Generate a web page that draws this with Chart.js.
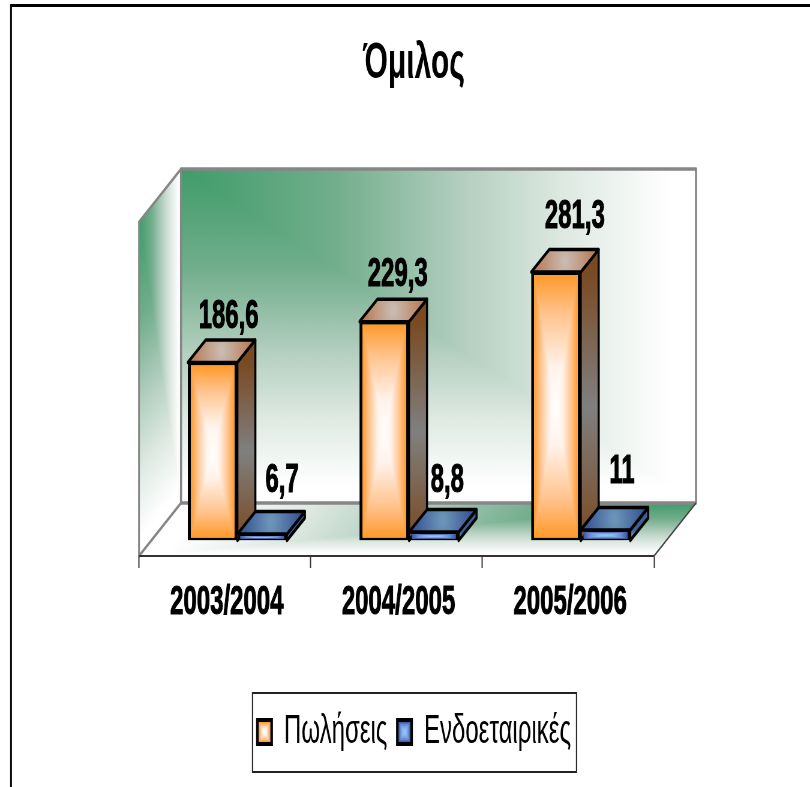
<!DOCTYPE html>
<html>
<head>
<meta charset="utf-8">
<script src="https://cdn.jsdelivr.net/npm/chart.js@4"></script>
<style>
html, body { margin: 0; padding: 0; background: #fff; overflow: hidden; }
#wrap { width: 810px; height: 787px; overflow: hidden; }
/* the original picture is squeezed sideways, so draw wide and squeeze */
#omilosChart { display: block; transform: scaleX(0.6); transform-origin: 0 0; }
</style>
</head>
<body>
<div id="wrap"><canvas id="omilosChart" width="1350" height="787"></canvas></div>
<script>
var categories = ["2003/2004", "2004/2005", "2005/2006"];
var seriesNames = ["Πωλήσεις", "Ενδοεταιρικές"];
var salesValues = [186.6, 229.3, 281.3];
var intercompanyValues = [6.7, 8.8, 11];
var chartTitle = "Όμιλος";

var squeeze = 0.6;
var fontFamily = "'Liberation Sans', Arial, sans-serif";

// 3d look, all in canvas pixels (before the squeeze)
var roomDepth = { x: 42 / squeeze, y: -53 };
var barShift = { x: 12.5 / squeeze, y: -15.5 };
var barDepth = { x: 18 / squeeze, y: -22.5 };

var faces = [
    { front: "#ff9a2b", side: ["#7a4a22", "#808080", "#7a4a22"], top: ["#b5734a", "#c9b9ae"], inset: 3,
      ramp: [[0, "#ffffff"], [0.3, "#fff3ea"], [0.7, "#ffc48f"], [1, "#ff9a2b"]] },
    { front: "#3c55a5", side: ["#3d5f95", "#6f8fb8", "#3d5f95"], top: ["#2f4a8c", "#6b93b8"], inset: 2,
      ramp: [[0, "#92c8fa"], [0.3, "#88bcf2"], [0.7, "#6a90d8"], [1, "#3c55a5"]] }
];
var greenRamp = [[0, "#3f9c6a"], [0.3, "#72ae8c"], [0.55, "#b4cfc0"], [0.75, "#dfeae3"], [0.95, "#ffffff"], [1, "#ffffff"]];

// hand placed data labels in the original, [dx, dy] from the bar top corner
var labelNudge = [
    [[16, -34], [13.5, -36], [19, -44]],
    [[20, -42], [13.5, -40], [16.5, -47]]
];

// corner gradient on a parallelogram: iso lines run out from origin like an L
function fillCorner(ctx, o, u, v) {
    ctx.save();
    ctx.transform(u.x, u.y, v.x, v.y, o.x, o.y);
    var gu = ctx.createLinearGradient(0, 0, 1, 0);
    var gv = ctx.createLinearGradient(0, 0, 0, 1);
    greenRamp.forEach(function (s) {
        gu.addColorStop(s[0], s[1]);
        gv.addColorStop(s[0], s[1]);
    });
    ctx.fillStyle = gv;
    ctx.fillRect(0, 0, 1, 1);
    ctx.beginPath(); ctx.moveTo(0, 0); ctx.lineTo(1, 0); ctx.lineTo(1, 1); ctx.closePath();
    ctx.fillStyle = gu; ctx.fill();
    ctx.restore();
}

function poly(ctx, pts) {
    ctx.beginPath();
    ctx.moveTo(pts[0][0], pts[0][1]);
    for (var i = 1; i < pts.length; i++) ctx.lineTo(pts[i][0], pts[i][1]);
    ctx.closePath();
}

function outline(ctx, pts, color, w) {
    poly(ctx, pts);
    ctx.strokeStyle = color;
    ctx.lineWidth = w;
    ctx.lineJoin = "round";
    ctx.stroke();
}

// rectangular "from centre" gradient, edges to middle, made of four triangles
function fillPyramid(ctx, x0, y0, x1, y1, ramp) {
    var cx = (x0 + x1) / 2, cy = (y0 + y1) / 2;
    function mirrored(ax, ay, bx, by) {
        var g = ctx.createLinearGradient(ax, ay, bx, by);
        ramp.forEach(function (s) {
            g.addColorStop(0.5 - s[0] / 2, s[1]);
            g.addColorStop(0.5 + s[0] / 2, s[1]);
        });
        return g;
    }
    ctx.fillStyle = mirrored(0, y0, 0, y1);
    ctx.fillRect(x0, y0, x1 - x0, y1 - y0);
    ctx.fillStyle = mirrored(x0, 0, x1, 0);
    poly(ctx, [[x0, y0], [cx, cy], [x0, y1]]); ctx.fill();
    poly(ctx, [[x1, y0], [cx, cy], [x1, y1]]); ctx.fill();
}

var room3d = {
    id: "room3d",
    beforeDraw: function (chart) {
        var ctx = chart.ctx, a = chart.chartArea, d = roomDepth;
        ctx.save();
        ctx.fillStyle = "#fff";
        ctx.fillRect(0, 0, chart.width, chart.height);
        // outer frame of the slide object
        ctx.strokeStyle = "#000";
        ctx.lineWidth = 3;
        ctx.beginPath();
        ctx.moveTo(11 / squeeze, chart.height);
        ctx.lineTo(11 / squeeze, 5.5);
        ctx.lineTo(chart.width, 5.5);
        ctx.stroke();

        var h = a.bottom - a.top, w = a.right - a.left;
        fillCorner(ctx, { x: a.left + d.x, y: a.top + d.y }, { x: w, y: 0 }, { x: 0, y: h });
        fillCorner(ctx, { x: a.left, y: a.top }, { x: d.x, y: d.y }, { x: 0, y: h });
        fillCorner(ctx, { x: a.right + d.x, y: a.bottom + d.y }, { x: -w, y: 0 }, { x: -d.x, y: -d.y });

        var grey = "#868686";
        outline(ctx, [[a.left + d.x, a.top + d.y], [a.right + d.x, a.top + d.y], [a.right + d.x, a.bottom + d.y], [a.left + d.x, a.bottom + d.y]], grey, 3.5);
        outline(ctx, [[a.left, a.top], [a.left + d.x, a.top + d.y], [a.left + d.x, a.bottom + d.y], [a.left, a.bottom]], grey, 3);
        ctx.beginPath();
        ctx.moveTo(a.right, a.bottom);
        ctx.lineTo(a.right + d.x, a.bottom + d.y);
        ctx.strokeStyle = "#444";
        ctx.lineWidth = 2;
        ctx.stroke();
        ctx.restore();
    },
    beforeDatasetsDraw: function (chart) {
        chart.ctx.save();
        chart.ctx.translate(barShift.x, barShift.y);
    },
    afterDatasetsDraw: function (chart) {
        var ctx = chart.ctx, b = barDepth;
        [0, 1].forEach(function (ds) {
            var f = faces[ds];
            chart.getDatasetMeta(ds).data.forEach(function (bar) {
                var p = bar.getProps(["x", "y", "base", "width"], true);
                var l = p.x - p.width / 2, r = p.x + p.width / 2;
                var top = [[l, p.y], [r, p.y], [r + b.x, p.y + b.y], [l + b.x, p.y + b.y]];
                var side = [[r, p.y], [r + b.x, p.y + b.y], [r + b.x, p.base + b.y], [r, p.base]];

                var gs = ctx.createLinearGradient(0, p.y, 0, p.base);
                f.side.forEach(function (c, i) { gs.addColorStop(i / 2, c); });
                poly(ctx, side); ctx.fillStyle = gs; ctx.fill();
                outline(ctx, side, "#000", 3.5);

                var cx = l + (r - l + b.x) / 2, cy = p.y + b.y / 2;
                var gt = ctx.createRadialGradient(cx, cy, 4, cx, cy, (r - l + b.x) / 2);
                gt.addColorStop(0, f.top[1]);
                gt.addColorStop(1, f.top[0]);
                poly(ctx, top); ctx.fillStyle = gt; ctx.fill();
                outline(ctx, top, "#000", 3.5);

                fillPyramid(ctx, l + 5, p.y + f.inset, r - 5, p.base - f.inset, f.ramp);
            });
        });
        ctx.restore();
    },
    afterDraw: function (chart) {
        var ctx = chart.ctx;
        ctx.save();
        // value labels
        ctx.fillStyle = "#000";
        ctx.strokeStyle = "#000";
        ctx.lineWidth = 1;
        ctx.font = "bold 40px " + fontFamily;
        ctx.textAlign = "center";
        ctx.textBaseline = "alphabetic";
        [0, 1].forEach(function (ds) {
            chart.getDatasetMeta(ds).data.forEach(function (bar, i) {
                var p = bar.getProps(["x", "y"], true);
                var n = labelNudge[ds][i];
                var text = String(chart.data.datasets[ds].data[i]).replace(".", ",");
                var tx = p.x + barShift.x + n[0] / squeeze, ty = p.y + barShift.y + n[1];
                ctx.strokeText(text, tx, ty);
                ctx.fillText(text, tx, ty);
            });
        });
        // legend box and the glow in its markers
        var lg = chart.legend;
        lg.legendHitBoxes.forEach(function (hit, ds) {
            var top = hit.top + (hit.height - 25) / 2;
            fillPyramid(ctx, hit.left + 3, top + 2.5, hit.left + 22, top + 22.5, faces[ds].ramp);
        });
        ctx.strokeStyle = "#222";
        ctx.lineWidth = 2;
        ctx.strokeRect(252.5 / squeeze, 693, 324 / squeeze, 79);
        ctx.restore();
    }
};

var ctx = document.getElementById("omilosChart").getContext("2d");

var myChart = new Chart(ctx, {
    type: "bar",
    data: {
        labels: categories,
        datasets: [
            {
                label: seriesNames[0],
                data: salesValues,
                backgroundColor: faces[0].front,
                borderColor: "#000",
                borderWidth: { left: 5, right: 5, top: 3, bottom: 3 },
                borderSkipped: false,
                categoryPercentage: 0.577,
                barPercentage: 1
            },
            {
                label: seriesNames[1],
                data: intercompanyValues,
                backgroundColor: faces[1].front,
                borderColor: "#000",
                borderWidth: { left: 5, right: 5, top: 2, bottom: 2 },
                borderSkipped: false,
                categoryPercentage: 0.577,
                barPercentage: 1
            }
        ]
    },
    plugins: [room3d],
    options: {
        responsive: false,
        animation: false,
        layout: { padding: { left: 18 / squeeze, right: 0, top: 20, bottom: 25 } },
        plugins: {
            title: {
                display: true,
                text: chartTitle,
                color: "#000",
                font: { family: fontFamily, size: 50, weight: "bold" },
                padding: { top: 14, bottom: 128 }
            },
            legend: {
                position: "bottom",
                labels: {
                    color: "#000",
                    font: { family: fontFamily, size: 40 },
                    boxWidth: 25,
                    boxHeight: 25,
                    padding: 16,
                    generateLabels: function () {
                        return seriesNames.map(function (name, ds) {
                            return { text: name, fillStyle: "#000", strokeStyle: "#000", lineWidth: 3, datasetIndex: ds, hidden: false };
                        });
                    }
                }
            },
            tooltip: { enabled: false }
        },
        scales: {
            x: {
                grid: { offset: true, drawOnChartArea: false, tickLength: 12, tickColor: "#333", tickWidth: 2 },
                border: { display: true, color: "#333", width: 2 },
                ticks: { color: "#000", font: { family: fontFamily, size: 40, weight: "bold" }, textStrokeColor: "#000", textStrokeWidth: 1, padding: 11, maxRotation: 0, autoSkip: false, labelOffset: 2 / squeeze },
                afterFit: function (s) { s.height = 140; }
            },
            y: {
                min: 0,
                max: 350,
                grid: { display: false },
                border: { display: false },
                ticks: { display: false },
                afterFit: function (s) { s.width = (139 - 18) / squeeze; }
            },
            yRight: {
                position: "right",
                grid: { display: false },
                border: { display: false },
                ticks: { display: false },
                afterFit: function (s) { s.width = 156 / squeeze; }
            }
        }
    }
});
</script>
</body>
</html>
